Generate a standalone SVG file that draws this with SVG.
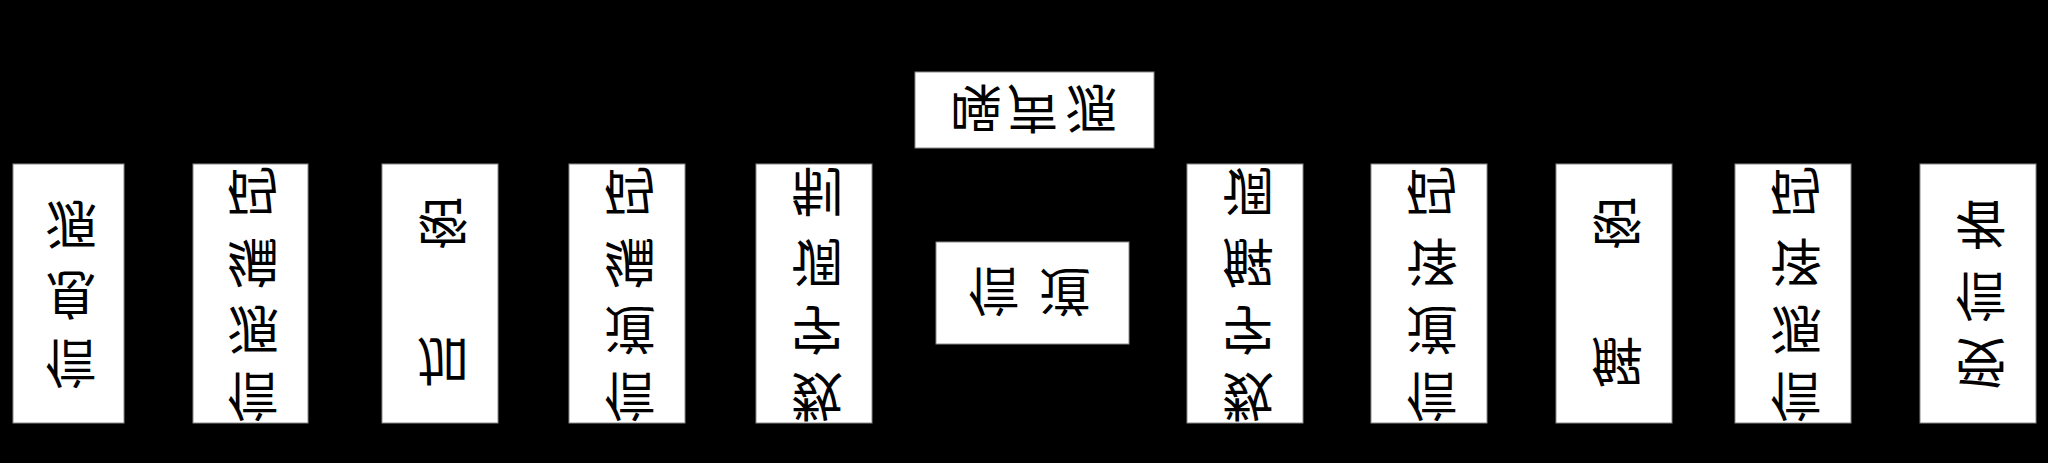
<svg xmlns="http://www.w3.org/2000/svg" width="2048" height="463" viewBox="0 0 2048 463">
<defs>
<style>
.box{fill:#fff;stroke:#8a8a8a;stroke-width:1}
.t{font-family:"Noto Sans CJK SC","Noto Sans CJK JP",sans-serif;font-size:52px;fill:#000;text-anchor:middle;dominant-baseline:central}
.c{stroke:#000;stroke-width:2;fill:none;marker-end:url(#ah)}
</style>
<marker id="ah" viewBox="0 0 10 10" refX="10" refY="5" markerWidth="8" markerHeight="8" orient="auto" markerUnits="userSpaceOnUse"><path d="M0,0 L10,5 L0,10 z" fill="#000"/></marker>
</defs>
<rect x="0" y="0" width="2048" height="463" fill="#000"/>
<g id="connectors">
<line class="c" x1="124" y1="293.5" x2="193" y2="293.5"/>
<line class="c" x1="308" y1="293.5" x2="382" y2="293.5"/>
<line class="c" x1="498" y1="293.5" x2="569" y2="293.5"/>
<line class="c" x1="685" y1="293.5" x2="756" y2="293.5"/>
<line class="c" x1="872" y1="293.5" x2="936" y2="293.5"/>
<line class="c" x1="1129" y1="293.5" x2="1187" y2="293.5"/>
<line class="c" x1="1303" y1="293.5" x2="1371" y2="293.5"/>
<line class="c" x1="1487" y1="293.5" x2="1556" y2="293.5"/>
<line class="c" x1="1672" y1="293.5" x2="1735" y2="293.5"/>
<line class="c" x1="1851" y1="293.5" x2="1920" y2="293.5"/>
<line class="c" x1="1034" y1="148" x2="1034" y2="242"/>
</g>
<g id="n1"><rect class="box" x="13" y="164" width="111" height="259"/>
<g transform="translate(0,587) scale(1,-1)"><text class="t"><tspan x="71" y="220">信</tspan><tspan x="71" y="289">息</tspan><tspan x="71" y="359">源</tspan></text></g></g>
<g id="n2"><rect class="box" x="193" y="164" width="115" height="259"/>
<g transform="translate(0,587) scale(1,-1)"><text class="t"><tspan x="253" y="187">信</tspan><tspan x="253" y="254">源</tspan><tspan x="253" y="321">编</tspan><tspan x="253" y="392">码</tspan></text></g></g>
<g id="n3"><rect class="box" x="382" y="164" width="116" height="259"/>
<g transform="translate(0,587) scale(1,-1)"><text class="t"><tspan x="443" y="222">加</tspan><tspan x="443" y="361">密</tspan></text></g></g>
<g id="n4"><rect class="box" x="569" y="164" width="116" height="259"/>
<g transform="translate(0,587) scale(1,-1)"><text class="t"><tspan x="630" y="187">信</tspan><tspan x="630" y="254">道</tspan><tspan x="630" y="321">编</tspan><tspan x="630" y="392">码</tspan></text></g></g>
<g id="n5"><rect class="box" x="756" y="164" width="116" height="259"/>
<g transform="translate(0,587) scale(1,-1)"><text class="t"><tspan x="817" y="187">数</tspan><tspan x="817" y="254">字</tspan><tspan x="817" y="321">调</tspan><tspan x="817" y="392">制</tspan></text></g></g>
<g id="noise"><rect class="box" x="915" y="72" width="239" height="76"/>
<g transform="translate(0,220) scale(1,-1)"><text class="t"><tspan x="976" y="108">噪</tspan><tspan x="1033" y="108">声</tspan><tspan x="1091" y="108">源</tspan></text></g></g>
<g id="channel"><rect class="box" x="936" y="242" width="193" height="102"/>
<g transform="translate(0,586) scale(1,-1)"><text class="t"><tspan x="994" y="291">信</tspan><tspan x="1065" y="291">道</tspan></text></g></g>
<g id="n6"><rect class="box" x="1187" y="164" width="116" height="259"/>
<g transform="translate(0,587) scale(1,-1)"><text class="t"><tspan x="1248" y="187">数</tspan><tspan x="1248" y="254">字</tspan><tspan x="1248" y="321">解</tspan><tspan x="1248" y="392">调</tspan></text></g></g>
<g id="n7"><rect class="box" x="1371" y="164" width="116" height="259"/>
<g transform="translate(0,587) scale(1,-1)"><text class="t"><tspan x="1432" y="187">信</tspan><tspan x="1432" y="254">道</tspan><tspan x="1432" y="321">译</tspan><tspan x="1432" y="392">码</tspan></text></g></g>
<g id="n8"><rect class="box" x="1556" y="164" width="116" height="259"/>
<g transform="translate(0,587) scale(1,-1)"><text class="t"><tspan x="1617" y="222">解</tspan><tspan x="1617" y="361">密</tspan></text></g></g>
<g id="n9"><rect class="box" x="1735" y="164" width="116" height="259"/>
<g transform="translate(0,587) scale(1,-1)"><text class="t"><tspan x="1796" y="187">信</tspan><tspan x="1796" y="254">源</tspan><tspan x="1796" y="321">译</tspan><tspan x="1796" y="392">码</tspan></text></g></g>
<g id="n10"><rect class="box" x="1920" y="164" width="116" height="259"/>
<g transform="translate(0,587) scale(1,-1)"><text class="t"><tspan x="1981" y="221">受</tspan><tspan x="1981" y="287">信</tspan><tspan x="1981" y="359">者</tspan></text></g></g>
</svg>
